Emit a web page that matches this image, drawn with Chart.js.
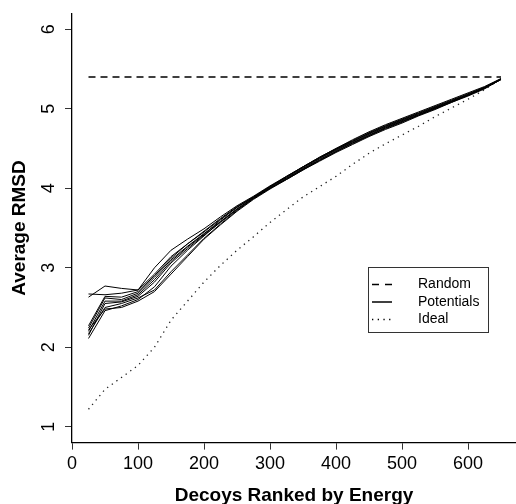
<!DOCTYPE html>
<html><head><meta charset="utf-8">
<script src="https://cdn.jsdelivr.net/npm/chart.js@4.4.1/dist/chart.umd.min.js"></script>
<style>html,body{margin:0;padding:0;background:#fff;overflow:hidden}#wrap{width:516px;height:504px}</style>
</head><body><div id="wrap"><canvas id="c" width="516" height="504"></canvas></div>
<script>
// ---- data ----
const decoys = [25,50,75,100,125,150,175,200,225,250,275,300,325,350,375,400,425,450,475,500,525,550,575,600,625,650];
const randomX = [25, 650];
const randomY = [5.40, 5.40];
const ideal = [1.22,1.47,1.62,1.77,2.00,2.34,2.58,2.82,3.03,3.22,3.39,3.57,3.73,3.89,4.02,4.15,4.30,4.44,4.56,4.67,4.78,4.90,5.01,5.12,5.24,5.38];
const pot1 = [2.11,2.46,2.52,2.60,2.76,3.02,3.22,3.40,3.58,3.74,3.88,4.00,4.12,4.24,4.35,4.46,4.56,4.66,4.75,4.83,4.92,5.00,5.08,5.17,5.26,5.37];
const pot2 = [2.17,2.50,2.55,2.62,2.72,2.95,3.16,3.37,3.55,3.72,3.87,4.00,4.11,4.23,4.35,4.46,4.57,4.66,4.76,4.84,4.92,5.01,5.09,5.17,5.26,5.37];
const pot3 = [2.20,2.58,2.58,2.66,2.85,3.08,3.26,3.42,3.60,3.76,3.89,4.02,4.14,4.26,4.38,4.49,4.59,4.69,4.78,4.86,4.94,5.02,5.10,5.18,5.27,5.37];
const pot4 = [2.24,2.62,2.60,2.68,2.88,3.10,3.27,3.43,3.58,3.74,3.88,4.01,4.13,4.25,4.37,4.48,4.58,4.68,4.77,4.85,4.93,5.01,5.09,5.17,5.26,5.37];
const pot5 = [2.27,2.64,2.63,2.70,2.90,3.12,3.30,3.45,3.61,3.76,3.89,4.02,4.14,4.27,4.39,4.50,4.60,4.70,4.79,4.87,4.95,5.03,5.11,5.19,5.27,5.38];
const pot6 = [2.63,2.77,2.74,2.72,3.00,3.22,3.36,3.49,3.64,3.78,3.90,4.03,4.15,4.27,4.39,4.50,4.61,4.71,4.80,4.88,4.96,5.04,5.12,5.20,5.28,5.38];
const pot7 = [2.67,2.66,2.68,2.72,2.92,3.14,3.30,3.46,3.62,3.77,3.89,4.02,4.15,4.27,4.38,4.49,4.59,4.69,4.78,4.86,4.94,5.02,5.10,5.18,5.27,5.37];
const pot8 = [2.22,2.48,2.50,2.58,2.70,2.92,3.14,3.36,3.54,3.71,3.86,3.99,4.11,4.23,4.34,4.45,4.55,4.65,4.74,4.82,4.91,4.99,5.08,5.16,5.25,5.37];
const pot9 = [2.15,2.55,2.57,2.64,2.82,3.06,3.24,3.41,3.57,3.73,3.87,4.00,4.12,4.24,4.36,4.47,4.57,4.67,4.76,4.84,4.92,5.00,5.09,5.17,5.26,5.37];
const potentials = [pot1,pot2,pot3,pot4,pot5,pot6,pot7,pot8,pot9];
const xTicks = [0,100,200,300,400,500,600];
const yTicks = [1,2,3,4,5,6];
const legendLabels = ['Random','Potentials','Ideal'];
const xTitle = 'Decoys Ranked by Energy';
const yTitle = 'Average RMSD';

// ---- styles ----
const FONT = '"Liberation Sans", Arial, Helvetica, sans-serif';
const pts = (xs, ys) => xs.map((x, i) => ({x: x, y: ys[i]}));
const datasets = [];
potentials.forEach((p, i) => datasets.push({
  label: 'Potentials ' + (i + 1), data: pts(decoys, p),
  borderColor: '#000', borderWidth: 1, pointRadius: 0, fill: false, tension: 0
}));
datasets.push({label: 'Random', data: pts(randomX, randomY), borderColor: '#000', borderWidth: 1.5,
  borderDash: [7, 5], pointRadius: 0, fill: false});
datasets.push({label: 'Ideal', data: pts(decoys, ideal), borderColor: '#222', borderWidth: 1.3,
  borderDash: [1.3, 4.4], pointRadius: 0, fill: false});

const textPlugin = {
  id: 'rtext',
  afterDraw(chart) {
    const ctx = chart.ctx, y = chart.scales.y, ca = chart.chartArea;
    ctx.save();
    ctx.fillStyle = '#000';
    // y tick labels, rotated like R
    ctx.font = '18px ' + FONT;
    ctx.textAlign = 'center'; ctx.textBaseline = 'alphabetic';
    y.ticks.forEach(t => {
      const py = y.getPixelForValue(t.value);
      ctx.save(); ctx.translate(54, py); ctx.rotate(-Math.PI / 2);
      ctx.fillText(String(t.value), 0, 0); ctx.restore();
    });
    // axis titles
    ctx.font = 'bold 19px ' + FONT;
    ctx.save(); ctx.translate(25.3, (ca.top + ca.bottom) / 2); ctx.rotate(-Math.PI / 2);
    ctx.fillText(yTitle, 0, 0); ctx.restore();
    ctx.fillText(xTitle, (ca.left + ca.right) / 2, 500.7);
    // legend
    const lx = 368.5, ly = 267.5, lw = 120, lh = 65;
    ctx.strokeStyle = '#333'; ctx.lineWidth = 1;
    ctx.strokeRect(lx, ly, lw, lh);
    const rows = [284.5, 302, 319.5];
    const styles = [{d: [7, 6], w: 1.5}, {d: [], w: 1.5}, {d: [1.3, 4.4], w: 1.3}];
    ctx.font = '14px ' + FONT; ctx.textAlign = 'left'; ctx.textBaseline = 'middle';
    legendLabels.forEach((lab, i) => {
      ctx.beginPath(); ctx.setLineDash(styles[i].d); ctx.lineWidth = styles[i].w;
      ctx.strokeStyle = '#000';
      ctx.moveTo(372, rows[i]); ctx.lineTo(392, rows[i]); ctx.stroke();
      ctx.setLineDash([]);
      ctx.fillText(lab, 418, rows[i]);
    });
    ctx.restore();
  }
};

new Chart(document.getElementById('c'), {
  type: 'line',
  data: {datasets: datasets},
  options: {
    responsive: false, animation: false, devicePixelRatio: 1,
    layout: {padding: {top: 13.4, left: 0, right: 0, bottom: 0}},
    plugins: {legend: {display: false}, tooltip: {enabled: false}},
    scales: {
      x: {
        type: 'linear', min: 0, max: 672.7,
        afterBuildTicks: s => { s.ticks = xTicks.map(v => ({value: v})); },
        afterFit: s => { s.height = 61.4; },
        grid: {drawOnChartArea: false, drawTicks: true, tickLength: 7, color: '#333', lineWidth: 1},
        border: {display: true, color: '#000', width: 1.3},
        ticks: {color: '#000', font: {family: FONT, size: 18}, padding: 4, maxRotation: 0, autoSkip: false}
      },
      y: {
        type: 'linear', min: 0.8, max: 6.2,
        afterBuildTicks: s => { s.ticks = yTicks.map(v => ({value: v})); },
        afterFit: s => { s.width = 72; },
        grid: {drawOnChartArea: false, drawTicks: true, tickLength: 7, color: '#333', lineWidth: 1},
        border: {display: true, color: '#000', width: 1.3},
        ticks: {display: false}
      }
    }
  },
  plugins: [textPlugin]
});
</script></body></html>
